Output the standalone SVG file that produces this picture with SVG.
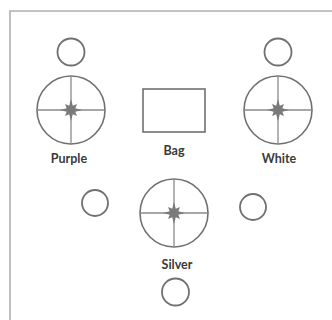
<svg xmlns="http://www.w3.org/2000/svg" width="332" height="320" viewBox="0 0 332 320">
<defs>
<style>
.ring{fill:none;stroke:#707070;stroke-width:1.6}
.hole{fill:none;stroke:#707070;stroke-width:1.8}
.ax{stroke:#8a8a8a;stroke-width:1.3}
.st{fill:#7a7a7a}
.lbl{font-family:Lato,"Liberation Sans",Arial,sans-serif;font-size:12.5px;font-weight:bold;fill:#3a3a3a;text-anchor:middle}
.frame{fill:none;stroke:#b0b0b0;stroke-width:1.6}
</style>
<g id="star">
<line class="ax" x1="-33" y1="0" x2="33" y2="0"/>
<line class="ax" x1="0" y1="-33" x2="0" y2="33"/>
<polygon class="st" points="0,-11 1.8,-4.3 6,-6 4.3,-1.8 11,0 4.3,1.8 6,6 1.8,4.3 0,11 -1.8,4.3 -6,6 -4.3,1.8 -11,0 -4.3,-1.8 -6,-6 -1.8,-4.3"/>
</g>
</defs>
<rect width="332" height="320" fill="#ffffff"/>
<path class="frame" d="M10,320 V11 H332"/>
<g id="purple">
<circle class="hole" cx="71" cy="52" r="13.5"/>
<circle class="ring" cx="71" cy="110" r="34"/>
<use href="#star" x="71" y="110"/>
<text class="lbl" x="69" y="163">Purple</text>
</g>
<g id="bag">
<rect x="143" y="89" width="62" height="43" fill="none" stroke="#707070" stroke-width="1.6"/>
<text class="lbl" x="174" y="155">Bag</text>
</g>
<g id="white">
<circle class="hole" cx="278" cy="52" r="13.5"/>
<circle class="ring" cx="278" cy="110" r="34"/>
<use href="#star" x="278" y="110"/>
<text class="lbl" x="279" y="163">White</text>
</g>
<g id="silver">
<circle class="ring" cx="174" cy="213" r="34"/>
<use href="#star" x="174" y="213"/>
<text class="lbl" x="177" y="269">Silver</text>
</g>
<g id="hole-left"><circle class="hole" cx="95" cy="203" r="13"/></g>
<g id="hole-right"><circle class="hole" cx="253" cy="207" r="13"/></g>
<g id="hole-bottom"><circle class="hole" cx="175.5" cy="292" r="13.5"/></g>
<g id="connectors"/>
</svg>
